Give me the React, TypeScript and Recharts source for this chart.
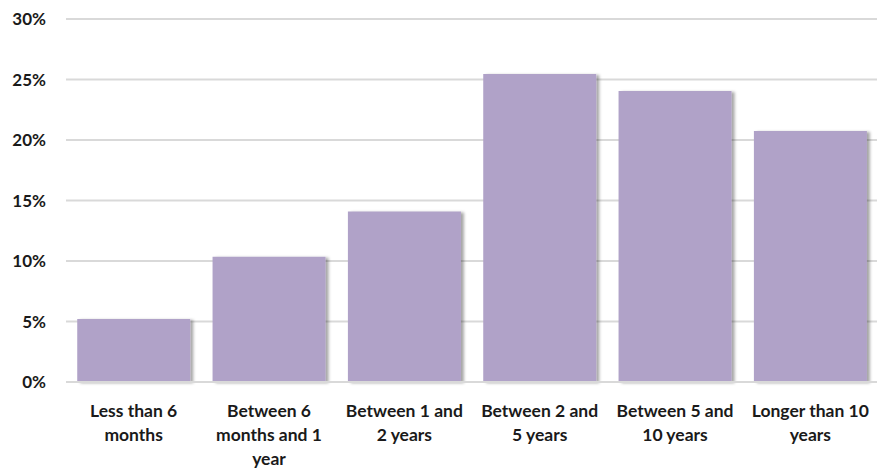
import { Bar, BarChart, CartesianGrid, XAxis, YAxis } from "recharts";

const categories = [
  "Less than 6 months",
  "Between 6 months and 1 year",
  "Between 1 and 2 years",
  "Between 2 and 5 years",
  "Between 5 and 10 years",
  "Longer than 10 years",
];
// how each category label breaks across lines under the axis
const labelLines = [
  ["Less than 6", "months"],
  ["Between 6", "months and 1", "year"],
  ["Between 1 and", "2 years"],
  ["Between 2 and", "5 years"],
  ["Between 5 and", "10 years"],
  ["Longer than 10", "years"],
];
const shares = [5.2, 10.35, 14.1, 25.45, 24.05, 20.75];
const yTicks = [0, 5, 10, 15, 20, 25, 30];

const data = categories.map((name, i) => ({ name, value: shares[i] }));

const FONT = "Lato, 'Open Sans', sans-serif";
const BAR = "#B0A2C8";

function CategoryTick({ x, y, payload, index }: any) {
  const lines = labelLines[index ?? payload.index] ?? [payload.value];
  return (
    <g transform={`translate(${x},${y})`}>
      {lines.map((line: string, i: number) => (
        <text
          key={i}
          x={0}
          y={27 + i * 24}
          textAnchor="middle"
          fontFamily={FONT}
          fontWeight={700}
          fontSize={17.5}
          fill="#1a1a1a"
        >
          {line}
        </text>
      ))}
    </g>
  );
}

export default function App() {
  return (
    <div style={{ position: "absolute", left: 0, top: 0, background: "#fff" }}>
      <BarChart
        width={877}
        height={468}
        data={data}
        margin={{ top: 19, right: -1, left: 0, bottom: 0 }}
        barCategoryGap="8.3%"
      >
        <defs>
          <filter id="barShadow" x="-10%" y="-10%" width="130%" height="120%">
            <feDropShadow dx={3} dy={1} stdDeviation={1.5} floodColor="#000" floodOpacity={0.35} />
          </filter>
        </defs>
        <CartesianGrid vertical={false} stroke="#d9d9d9" strokeWidth={2} />
        <XAxis
          dataKey="name"
          axisLine={{ stroke: "#d9d9d9", strokeWidth: 2 }}
          tickLine={false}
          interval={0}
          tick={<CategoryTick />}
          height={86}
        />
        <YAxis
          domain={[0, 30]}
          ticks={yTicks}
          axisLine={false}
          tickLine={false}
          width={66}
          tickFormatter={(v) => `${v}%`}
          tick={{ fontFamily: FONT, fontWeight: 700, fontSize: 17, fill: "#1a1a1a", dx: -12 }}
        />
        <Bar
          dataKey="value"
          fill={BAR}
          filter="url(#barShadow)"
          isAnimationActive={false}
        />
      </BarChart>
    </div>
  );
}
